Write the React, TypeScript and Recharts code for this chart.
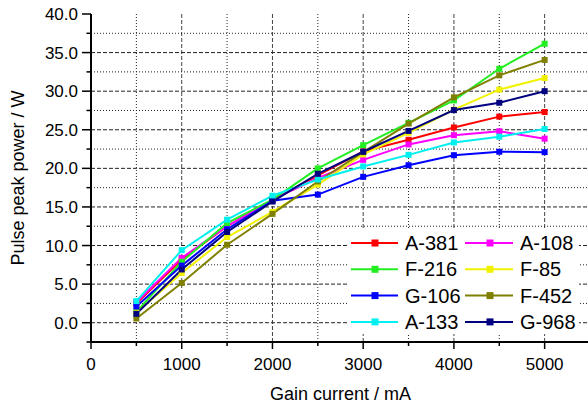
import React from 'react';
import { LineChart, Line, XAxis, YAxis, ReferenceLine, Label } from 'recharts';

const CURRENT = [500, 1000, 1500, 2000, 2500, 3000, 3500, 4000, 4500, 5000];

const A381 = [2.5, 8.2, 12.5, 15.9, 19.1, 22.2, 23.7, 25.3, 26.7, 27.3];
const A108 = [2.65, 8.4, 12.5, 15.95, 18.75, 21.1, 23.1, 24.3, 24.8, 23.85];
const F216 = [1.4, 7.9, 12.9, 15.95, 20.0, 23.0, 25.9, 28.8, 32.9, 36.15];
const F85 = [1.3, 6.45, 11.1, 14.35, 17.9, 21.8, 24.6, 27.6, 30.2, 31.7];
const G106 = [2.1, 7.4, 12.1, 15.8, 16.6, 18.9, 20.4, 21.7, 22.15, 22.1];
const F452 = [0.55, 5.15, 10.1, 14.1, 18.3, 22.1, 25.8, 29.2, 32.05, 34.05];
const A133 = [2.8, 9.4, 13.35, 16.45, 18.55, 20.25, 21.75, 23.35, 24.1, 25.1];
const G968 = [1.15, 6.9, 11.75, 15.7, 19.3, 22.15, 24.85, 27.55, 28.5, 30.0];

const X_TICKS = [0, 500, 1000, 1500, 2000, 2500, 3000, 3500, 4000, 4500, 5000, 5500];
const Y_TICKS = [-2.5, 0, 2.5, 5, 7.5, 10, 12.5, 15, 17.5, 20, 22.5, 25, 27.5, 30, 32.5, 35, 37.5, 40];

const SERIES = [
  { key: 'A-381', values: A381, color: '#ff0000' },
  { key: 'A-108', values: A108, color: '#ff00ff' },
  { key: 'F-216', values: F216, color: '#22ee22' },
  { key: 'F-85', values: F85, color: '#f2f200' },
  { key: 'G-106', values: G106, color: '#0000ff' },
  { key: 'F-452', values: F452, color: '#808000' },
  { key: 'A-133', values: A133, color: '#00f0f0' },
  { key: 'G-968', values: G968, color: '#000080' },
];

const data = CURRENT.map((c, i) => {
  const row: Record<string, number> = { current: c };
  SERIES.forEach(s => { row[s.key] = s.values[i]; });
  return row;
});

const FONT = '"Liberation Sans", Arial, sans-serif';
const isMajorX = (v: number) => v % 1000 === 0;
const isMajorY = (v: number) => v % 5 === 0;

const BottomTick = (p: any) => {
  const v = p.payload.value;
  const major = isMajorX(v);
  return (
    <g>
      <line x1={p.x} x2={p.x} y1={p.y} y2={p.y + (major ? 7 : 4)} stroke="#000" strokeWidth={1.5} />
      {major && v <= 5000 && (
        <text x={p.x} y={p.y + 28} textAnchor="middle" fontSize={17} fontFamily={FONT} fill="#000">{v}</text>
      )}
    </g>
  );
};

const TopTick = (p: any) => {
  const major = isMajorX(p.payload.value);
  return <line x1={p.x} x2={p.x} y1={p.y} y2={p.y + (major ? 7 : 4)} stroke="#000" strokeWidth={1.5} />;
};

const LeftTick = (p: any) => {
  const v = p.payload.value;
  const major = isMajorY(v);
  return (
    <g>
      <line x1={p.x - (major ? 9 : 4.5)} x2={p.x} y1={p.y} y2={p.y} stroke="#000" strokeWidth={1.5} />
      {major && (
        <text x={78} y={p.y + 6} textAnchor="end" fontSize={17} fontFamily={FONT} fill="#000">{v.toFixed(1)}</text>
      )}
    </g>
  );
};

const RightTick = (p: any) => {
  const major = isMajorY(p.payload.value);
  return <line x1={p.x - (major ? 7 : 4)} x2={p.x} y1={p.y} y2={p.y} stroke="#000" strokeWidth={1.5} />;
};

const squareDot = (color: string) => (p: any) => (
  <rect key={`${p.dataKey}-${p.index}`} x={p.cx - 3} y={p.cy - 3} width={6} height={6} fill={color} />
);

function ChartLegend() {
  const rows = [0, 1, 2, 3];
  const cols = [
    { x1: 351, xm: 375, x2: 398, tx: 405 },
    { x1: 465, xm: 490, x2: 513, tx: 520 },
  ];
  return (
    <svg width={588} height={407} style={{ position: 'absolute', left: 0, top: 0, pointerEvents: 'none' }}>
      <rect x={349} y={228} width={230} height={106} fill="#fff" />
      {rows.map(r => cols.map((c, ci) => {
        const s = SERIES[r * 2 + ci];
        const y = 243 + r * 26.3;
        return (
          <g key={s.key}>
            <line x1={c.x1} x2={c.x2} y1={y} y2={y} stroke={s.color} strokeWidth={2} />
            <rect x={c.xm - 3.5} y={y - 3.5} width={7} height={7} fill={s.color} />
            <text x={c.tx} y={y + 7} fontSize={20} fontFamily={FONT} fill="#000">{s.key}</text>
          </g>
        );
      }))}
    </svg>
  );
}

export default function App() {
  const vMinor = X_TICKS.filter(v => v > 0 && v < 5500 && !isMajorX(v));
  const vMajor = X_TICKS.filter(v => v > 0 && v < 5500 && isMajorX(v));
  const hMinor = Y_TICKS.filter(v => v > -2.5 && v < 40 && !isMajorY(v));
  const hMajor = Y_TICKS.filter(v => v > -2.5 && v < 40 && isMajorY(v));

  return (
    <div style={{ position: 'absolute', left: 0, top: 0, width: 588, height: 407, overflow: 'hidden', background: '#fff' }}>
      <LineChart width={592} height={407} data={data} margin={{ top: 14, right: 2, bottom: 0, left: 0 }}>
        {vMinor.map(v => <ReferenceLine key={`vm${v}`} x={v} stroke="#222" strokeDasharray="1 2" />)}
        {vMajor.map(v => <ReferenceLine key={`vM${v}`} x={v} stroke="#444" strokeDasharray="4 2" />)}
        {hMinor.map(v => <ReferenceLine key={`hm${v}`} y={v} stroke="#222" strokeDasharray="1 2" />)}
        {hMajor.map(v => <ReferenceLine key={`hM${v}`} y={v} stroke="#222" strokeDasharray="4 2" />)}
        <XAxis type="number" dataKey="current" domain={[0, 5500]} ticks={X_TICKS} interval={0}
          tick={<BottomTick />} tickSize={0} tickMargin={0} tickLine={false}
          axisLine={{ stroke: '#000', strokeWidth: 2 }} height={65} allowDataOverflow>
          <Label content={(p: any) => (
            <text x={p.viewBox.x + p.viewBox.width / 2} y={400} textAnchor="middle" fontSize={18} fontFamily={FONT} fill="#000">
              Gain current / mA
            </text>
          )} />
        </XAxis>
        <XAxis xAxisId="top" orientation="top" type="number" domain={[0, 5500]} ticks={X_TICKS} interval={0}
          tick={<TopTick />} tickSize={0} tickMargin={0} tickLine={false}
          axisLine={{ stroke: '#000', strokeWidth: 2 }} height={0} allowDataOverflow />
        <YAxis type="number" domain={[-2.5, 40]} ticks={Y_TICKS} interval={0} width={91}
          tick={<LeftTick />} tickSize={0} tickMargin={0} tickLine={false}
          axisLine={{ stroke: '#000', strokeWidth: 2 }} allowDataOverflow>
          <Label content={(p: any) => (
            <text x={18} y={p.viewBox.y + p.viewBox.height / 2} transform={`rotate(-90 18 ${p.viewBox.y + p.viewBox.height / 2})`}
              textAnchor="middle" dominantBaseline="central" fontSize={18} fontFamily={FONT} fill="#000">
              Pulse peak power / W
            </text>
          )} />
        </YAxis>
        <YAxis yAxisId="right" orientation="right" type="number" domain={[-2.5, 40]} ticks={Y_TICKS} interval={0} width={0}
          tick={<RightTick />} tickSize={0} tickMargin={0} tickLine={false}
          axisLine={{ stroke: '#000', strokeWidth: 2 }} allowDataOverflow />
        {SERIES.map(s => (
          <Line key={s.key} type="linear" dataKey={s.key} stroke={s.color} strokeWidth={2}
            dot={squareDot(s.color)} activeDot={false} isAnimationActive={false} />
        ))}
      </LineChart>
      <ChartLegend />
    </div>
  );
}
